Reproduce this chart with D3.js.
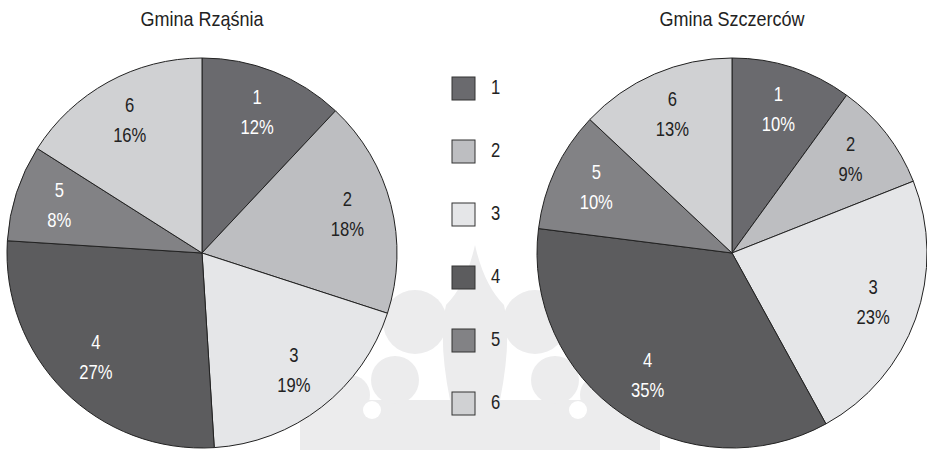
<!DOCTYPE html>
<html>
<head>
<meta charset="utf-8">
<script src="https://cdnjs.cloudflare.com/ajax/libs/d3/7.8.5/d3.min.js"></script>
<style>
  html, body { margin: 0; padding: 0; background: #fff; }
  svg { display: block; }
  text { font-family: "Liberation Sans", Arial, sans-serif; }
</style>
</head>
<body>
<div id="chart"></div>
<script>
// categories and shares (%)
const categories = ['1', '2', '3', '4', '5', '6'];
const titles = ['Gmina Rząśnia', 'Gmina Szczerców'];
const rzasniaValues = [12, 18, 19, 27, 8, 16];
const szczercowValues = [10, 9, 23, 35, 10, 13];

const fills = ['#6a6a6e', '#bdbec1', '#e5e6e8', '#5c5c5e', '#828285', '#d0d1d3'];
const textFills = ['#fff', '#222', '#222', '#fff', '#fff', '#222'];

const width = 927, height = 450;
const radius = 195;
const labelRadius = 150;
const narrow = 0.83; // the original uses a condensed face
const titleNarrow = 0.9;

const svg = d3.select('#chart').append('svg')
    .attr('width', width)
    .attr('height', height);

// faint crown watermark in the background
const wm = svg.append('g').attr('fill', '#ececed');
wm.append('rect').attr('x', 300).attr('y', 400).attr('width', 360).attr('height', 50);
wm.append('path').attr('d', 'M475,245 Q484,285 504,305 Q512,340 500,400 L450,400 Q438,340 446,305 Q466,285 475,245 Z');
wm.append('circle').attr('cx', 415).attr('cy', 322).attr('r', 32);
wm.append('circle').attr('cx', 535).attr('cy', 322).attr('r', 32);
wm.append('circle').attr('cx', 395).attr('cy', 380).attr('r', 24);
wm.append('circle').attr('cx', 555).attr('cy', 380).attr('r', 24);
wm.append('circle').attr('cx', 350).attr('cy', 395).attr('r', 20);
wm.append('circle').attr('cx', 600).attr('cy', 395).attr('r', 20);
const wmHoles = svg.append('g').attr('fill', '#fff');
wmHoles.append('circle').attr('cx', 432).attr('cy', 365).attr('r', 12);
wmHoles.append('circle').attr('cx', 518).attr('cy', 365).attr('r', 12);
wmHoles.append('circle').attr('cx', 372).attr('cy', 410).attr('r', 9);
wmHoles.append('circle').attr('cx', 578).attr('cy', 410).attr('r', 9);

const pie = d3.pie().sort(null).value(d => d.value);
const arc = d3.arc().innerRadius(0).outerRadius(radius);
const labelArc = d3.arc().innerRadius(labelRadius).outerRadius(labelRadius);

const pies = [
    { title: titles[0], values: rzasniaValues, cx: 202, cy: 253 },
    { title: titles[1], values: szczercowValues, cx: 732, cy: 253 }
];

pies.forEach(p => {
    const data = categories.map((c, i) => ({ cat: c, value: p.values[i], idx: i }));

    svg.append('text')
        .attr('transform', `translate(${p.cx},26) scale(${titleNarrow},1)`)
        .attr('text-anchor', 'middle')
        .attr('font-size', 20)
        .attr('fill', '#222')
        .text(p.title);

    const g = svg.append('g').attr('transform', `translate(${p.cx},${p.cy})`);

    g.selectAll('path')
        .data(pie(data))
        .enter()
        .append('path')
        .attr('d', arc)
        .attr('fill', d => fills[d.data.idx])
        .attr('stroke', '#222')
        .attr('stroke-width', 1);

    const labels = g.selectAll('.lbl')
        .data(pie(data))
        .enter()
        .append('g')
        .attr('class', 'lbl')
        .attr('transform', d => `translate(${labelArc.centroid(d)}) scale(${narrow},1)`);

    labels.append('text')
        .attr('y', -15)
        .attr('text-anchor', 'middle')
        .attr('dominant-baseline', 'middle')
        .attr('font-size', 20)
        .attr('fill', d => textFills[d.data.idx])
        .text(d => d.data.cat);

    labels.append('text')
        .attr('y', 15)
        .attr('text-anchor', 'middle')
        .attr('dominant-baseline', 'middle')
        .attr('font-size', 20)
        .attr('fill', d => textFills[d.data.idx])
        .text(d => d.data.value + '%');
});

// legend in the middle
const legendY = d3.scalePoint().domain(categories).range([88.5, 403.5]);
const legend = svg.append('g');
const items = legend.selectAll('g')
    .data(categories)
    .enter()
    .append('g')
    .attr('transform', d => `translate(452,${legendY(d)})`);

items.append('rect')
    .attr('x', 0)
    .attr('y', -11.5)
    .attr('width', 23)
    .attr('height', 23)
    .attr('fill', (d, i) => fills[i])
    .attr('stroke', '#333')
    .attr('stroke-width', 1);

items.append('text')
    .attr('transform', `translate(39,0) scale(${narrow},1)`)
    .attr('dominant-baseline', 'middle')
    .attr('font-size', 20)
    .attr('fill', '#222')
    .text(d => d);
</script>
</body>
</html>
